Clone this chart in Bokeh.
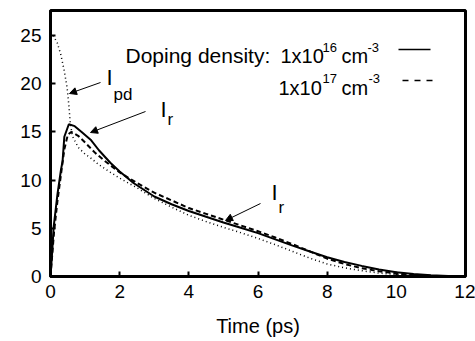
from bokeh.plotting import figure
from bokeh.models import Arrow, NormalHead, Label, FixedTicker, Range1d
from bokeh.embed import file_html
from bokeh.resources import INLINE

# ---- data ----
t_16 = [0.0, 0.05, 0.09, 0.2, 0.3, 0.35, 0.4, 0.53, 0.7, 0.9, 1.16, 1.4, 1.73, 2.0, 2.4,
        3.0, 3.5, 4.0, 4.5, 5.0, 5.5, 6.0, 6.5, 7.0, 7.5, 8.0, 8.5, 9.0, 9.5, 10.0,
        10.5, 11.0, 11.5, 12.0]
i_16 = [0.0, 2.6, 5.1, 8.5, 11.0, 12.0, 14.5, 15.8, 15.6, 15.0, 14.2, 13.1, 11.8, 10.9, 9.7,
        8.3, 7.5, 6.8, 6.2, 5.6, 5.05, 4.5, 3.85, 3.2, 2.6, 2.0, 1.5, 1.1, 0.72, 0.45,
        0.25, 0.12, 0.05, 0.0]

t_17 = [0.0, 0.1, 0.2, 0.3, 0.4, 0.5, 0.6, 0.8, 1.0, 1.3, 1.6, 2.0, 2.5, 3.0, 3.5, 4.0,
        4.5, 5.0, 5.5, 6.0, 6.5, 7.0, 7.5, 8.0, 8.5, 9.0, 9.5, 10.0, 10.5, 11.0, 11.5, 12.0]
i_17 = [0.0, 4.5, 7.8, 10.5, 13.2, 14.7, 15.0, 14.6, 13.9, 12.8, 11.9, 10.8, 9.7, 8.7, 7.9, 7.1,
        6.5, 5.9, 5.3, 4.7, 4.05, 3.35, 2.6, 1.85, 1.3, 0.85, 0.55, 0.3, 0.15, 0.07, 0.02, 0.0]

t_pd = [0.08, 0.2, 0.3, 0.4, 0.48, 0.53, 0.57, 0.63, 0.8, 1.0, 1.16, 1.4, 1.65, 2.0, 2.5,
        3.0, 3.5, 4.0, 4.5, 5.0, 5.5, 6.0, 6.5, 7.0, 7.5, 8.0, 8.5, 9.0, 9.5, 10.0, 11.0, 12.0]
i_pd = [25.0, 24.2, 23.0, 21.3, 19.6, 17.8, 16.0, 14.6, 13.4, 12.7, 12.3, 11.6, 11.0, 10.2, 9.2,
        8.1, 7.2, 6.35, 5.7, 5.1, 4.55, 3.95, 3.3, 2.6, 1.9, 1.3, 0.9, 0.6, 0.35, 0.2, 0.05, 0.0]

x_ticks = [0, 2, 4, 6, 8, 10, 12]
y_ticks = [0, 5, 10, 15, 20, 25]
x_label = "Time (ps)"

X_MAX = 12.0
Y_MAX = 27.6

FONT = "Liberation Sans"

p = figure(width=475, height=341, output_backend="svg", toolbar_location=None,
           x_range=Range1d(0, X_MAX), y_range=Range1d(0, Y_MAX),
           min_border_left=50, min_border_right=10, min_border_top=10,
           min_border_bottom=65)

p.background_fill_color = "white"
p.border_fill_color = "white"
p.outline_line_color = "black"
p.outline_line_width = 3
p.grid.visible = False

for ax in (p.xaxis[0], p.yaxis[0]):
    ax.axis_line_width = 3
    ax.axis_line_color = "black"
    ax.major_tick_in = 5
    ax.major_tick_out = 0
    ax.major_tick_line_width = 2
    ax.major_tick_line_color = "black"
    ax.minor_tick_line_color = None
    ax.major_label_text_font = FONT
    ax.major_label_text_font_size = "19px"
    ax.major_label_text_color = "black"

p.xaxis.ticker = FixedTicker(ticks=x_ticks)
p.yaxis.ticker = FixedTicker(ticks=y_ticks)
p.xaxis.major_label_standoff = 8
p.yaxis.major_label_standoff = 9
p.xaxis.axis_label = x_label
p.xaxis.axis_label_text_font = FONT
p.xaxis.axis_label_text_font_size = "20px"
p.xaxis.axis_label_text_font_style = "normal"
p.xaxis.axis_label_text_color = "black"
p.xaxis.axis_label_standoff = 14

# curves
p.line(t_pd, i_pd, line_color="black", line_width=1.5, line_dash="1 3")
p.line(t_17, i_17, line_color="black", line_width=2, line_dash="5 3")
p.line(t_16, i_16, line_color="black", line_width=2)

# helpers: pixel position in the 475x341 picture -> data coordinates
FL, FR, FT, FB = 50, 465, 10, 276
def dx(px):
    return (px - FL) / (FR - FL) * X_MAX
def dy(py):
    return (FB - py) / (FB - FT) * Y_MAX

def lab(px, py, text, size, baseline="alphabetic"):
    p.add_layout(Label(x=dx(px), y=dy(py), text=text, text_font=FONT,
                       text_font_size=size, text_align="left",
                       text_baseline=baseline, text_color="black"))

# legend
lab(125, 55, "Doping density:", "21px")
lab(280, 55, "1x10", "20px")
lab(322, 47, "16", "13px")
lab(341, 55, "cm", "20px")
lab(367, 47, "-3", "13px")
lab(278, 87, "1x10", "20px")
lab(322, 78, "17", "13px")
lab(341, 87, "cm", "20px")
lab(368, 78, "-3", "13px")
p.line([dx(398), dx(430)], [dy(49), dy(49)], line_color="black", line_width=1.5)
p.line([dx(402), dx(437)], [dy(80), dy(80)], line_color="black", line_width=1.5,
       line_dash="6 6")

# annotations
lab(106, 77, "I", "22px", "middle")
lab(113, 94, "pd", "17px", "middle")
lab(160, 109, "I", "22px", "middle")
lab(167, 119, "r", "17px", "middle")
lab(271, 192, "I", "22px", "middle")
lab(278, 207, "r", "17px", "middle")

def arrow(x0, y0, x1, y1):
    p.add_layout(Arrow(end=NormalHead(size=7, fill_color="black", line_color="black"),
                       x_start=dx(x0), y_start=dy(y0), x_end=dx(x1), y_end=dy(y1),
                       line_color="black", line_width=1))

arrow(100, 82, 69, 93)
arrow(145, 111, 90, 132)
arrow(260, 203, 225, 220)

open("out.html", "w").write(file_html(p, INLINE))
